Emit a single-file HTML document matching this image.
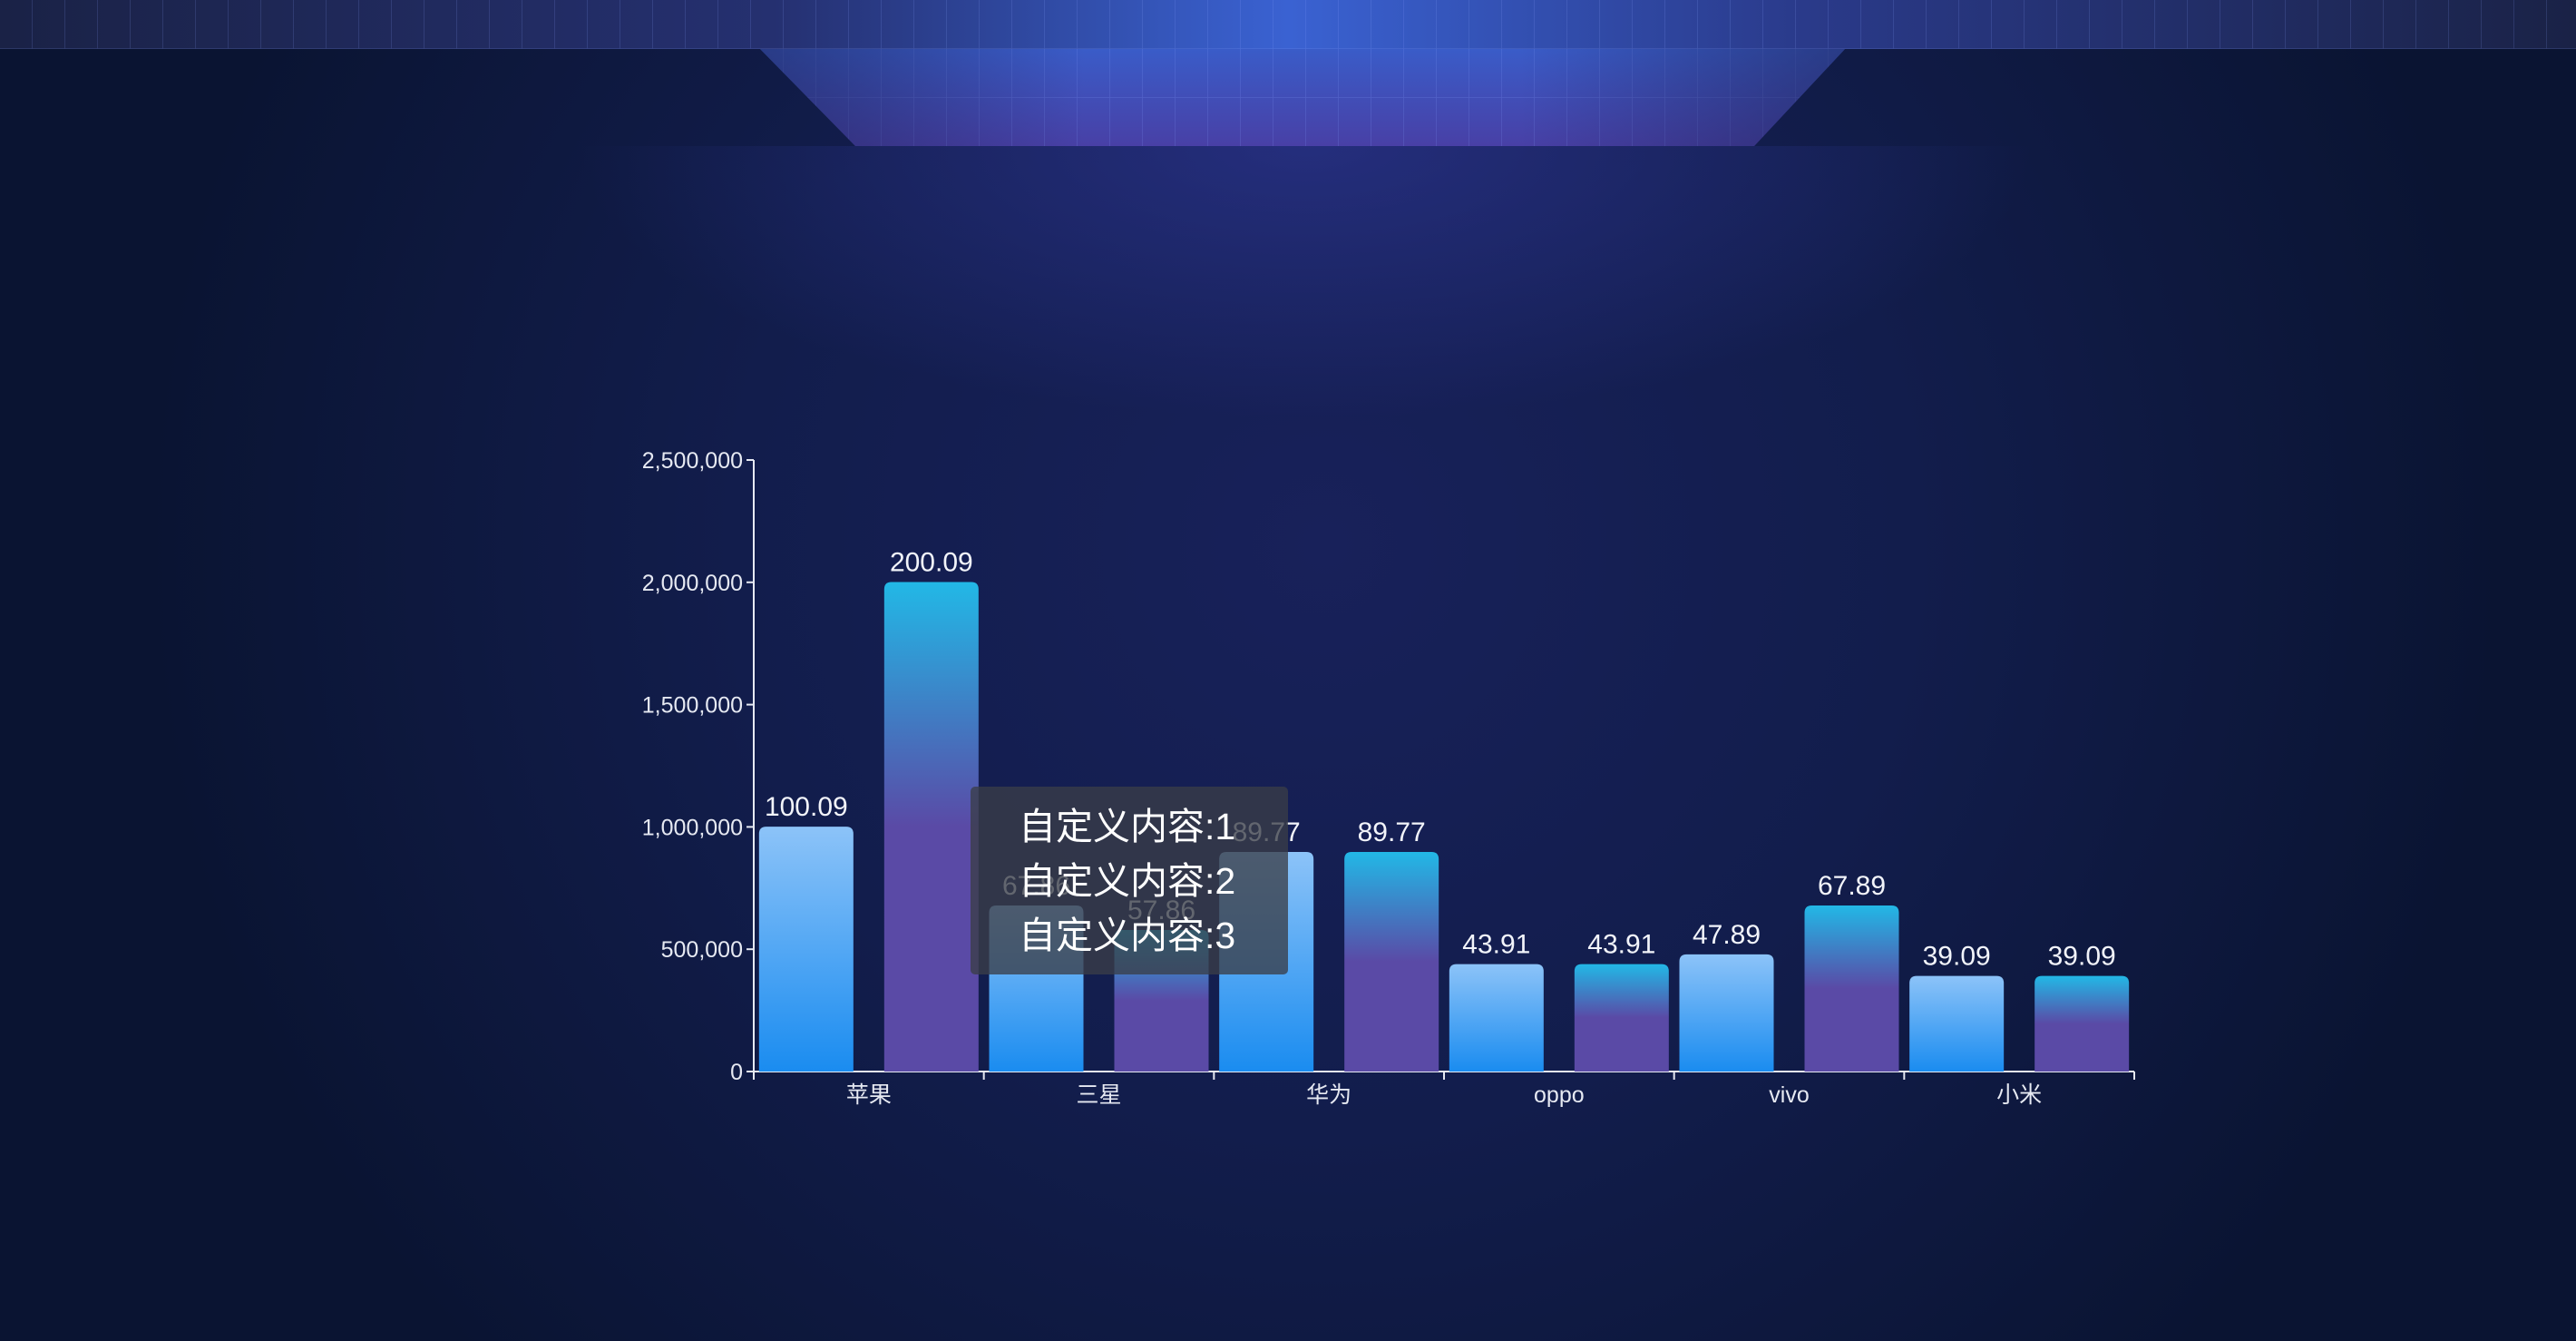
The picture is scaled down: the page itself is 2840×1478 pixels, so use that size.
<!DOCTYPE html>
<html><head><meta charset="utf-8">
<style>
html,body{margin:0;padding:0;width:2840px;height:1478px;overflow:hidden;background:#0c1633;}
svg{display:block}
</style></head>
<body>
<svg id="chart" width="2840" height="1478" viewBox="0 0 2840 1478" xmlns="http://www.w3.org/2000/svg" font-family="Liberation Sans, Noto Sans CJK SC, sans-serif">
<defs>
  <radialGradient id="bgGlow" cx="1460" cy="600" r="1300" gradientUnits="userSpaceOnUse">
    <stop offset="0" stop-color="#18215a"/>
    <stop offset="0.5" stop-color="#121d4c"/>
    <stop offset="1" stop-color="#0a1432"/>
  </radialGradient>
  <linearGradient id="topBand" x1="0" y1="0" x2="1" y2="0">
    <stop offset="0" stop-color="#1a2246"/>
    <stop offset="0.3" stop-color="#253070"/>
    <stop offset="0.5" stop-color="#3a62d2"/>
    <stop offset="0.7" stop-color="#2a3a8a"/>
    <stop offset="1" stop-color="#1a2246"/>
  </linearGradient>
  <linearGradient id="trap" x1="0" y1="0" x2="0" y2="1">
    <stop offset="0" stop-color="#3a5cc8"/>
    <stop offset="1" stop-color="#4840a6"/>
  </linearGradient>
  <linearGradient id="trapSide" x1="0" y1="0" x2="1" y2="0">
    <stop offset="0" stop-color="#1a2050" stop-opacity="0.55"/>
    <stop offset="0.3" stop-color="#1a2050" stop-opacity="0"/>
    <stop offset="0.7" stop-color="#1a2050" stop-opacity="0"/>
    <stop offset="1" stop-color="#1a2050" stop-opacity="0.55"/>
  </linearGradient>
  <radialGradient id="belowGlow" cx="1440" cy="161" r="1" gradientTransform="translate(1440 161) scale(800 300) translate(-1440 -161)" gradientUnits="userSpaceOnUse">
    <stop offset="0" stop-color="#2c3590" stop-opacity="0.7"/>
    <stop offset="1" stop-color="#2c3590" stop-opacity="0"/>
  </radialGradient>
  <pattern id="grid" width="36" height="54" patternUnits="userSpaceOnUse">
    <path d="M36 0V54M0 54H36" stroke="#8aa0ff" stroke-opacity="0.22" stroke-width="1.5" fill="none"/>
  </pattern>
  <linearGradient id="g1" x1="0" y1="0" x2="0" y2="1">
    <stop offset="0" stop-color="#8cc3f8"/>
    <stop offset="1" stop-color="#1a8cf0"/>
  </linearGradient>
  <linearGradient id="g2" x1="0" y1="0" x2="0" y2="1">
    <stop offset="0" stop-color="#22b8e6"/>
    <stop offset="0.5" stop-color="#5a4aa6"/>
    <stop offset="1" stop-color="#5a4aa6"/>
  </linearGradient>
</defs>
<rect width="2840" height="1478" fill="url(#bgGlow)"/>
<g>
  <rect x="0" y="0" width="2840" height="54" fill="url(#topBand)"/>
  <rect x="0" y="0" width="2840" height="54" fill="url(#grid)"/>
  <rect x="0" y="161" width="2840" height="320" fill="url(#belowGlow)"/>
  <polygon points="838,54 2034,54 1934,161 943,161" fill="url(#trap)"/>
  <polygon points="838,54 2034,54 1934,161 943,161" fill="url(#grid)"/>
  <polygon points="838,54 2034,54 1934,161 943,161" fill="url(#trapSide)"/>
</g>
<g id="axes"></g>
<g id="bars"></g>
<g>
  <rect x="1070" y="867" width="350" height="207" rx="5" fill="#3a3d48" fill-opacity="0.78"/>
  <text x="1123" y="925" font-size="41" fill="#ffffff">自定义内容:1</text>
  <text x="1123" y="985" font-size="41" fill="#ffffff">自定义内容:2</text>
  <text x="1123" y="1045" font-size="41" fill="#ffffff">自定义内容:3</text>
</g>
</svg>
<script>
const categories = ["苹果","三星","华为","oppo","vivo","小米"];
const series1 = [1000900, 678600, 897700, 439100, 478900, 390900];
const series2 = [2000900, 578600, 897700, 439100, 678900, 390900];
const yTicks = [0, 500000, 1000000, 1500000, 2000000, 2500000];
const yTickLabels = ["0","500,000","1,000,000","1,500,000","2,000,000","2,500,000"];

const NS = "http://www.w3.org/2000/svg";
const X0 = 831, X1 = 2353, Y0 = 1181, YTOP = 507, YMAX = 2500000;
const catW = (X1 - X0) / categories.length;
function yScale(v){ return Y0 - (v / YMAX) * (Y0 - YTOP); }
function xCat(i){ return X0 + catW * (i + 0.5); }
function mk(tag, attrs, parent){
  const e = document.createElementNS(NS, tag);
  for (const k in attrs) e.setAttribute(k, attrs[k]);
  parent.appendChild(e); return e;
}
const axes = document.getElementById("axes");
const bars = document.getElementById("bars");

const yLine = mk("line", {x1:X0, y1:YTOP, x2:X0, y2:Y0, stroke:"#e6e9f2", "stroke-width":2}, axes);


const xLine = mk("line", {x1:X0, y1:Y0, x2:X1, y2:Y0, stroke:"#e6e9f2", "stroke-width":2}, axes);



yTicks.forEach((t, i) => {
  const y = yScale(t);
  const tk = mk("line", {x1:X0-8, y1:y, x2:X0, y2:y, stroke:"#e6e9f2", "stroke-width":2}, axes);
  
  
  const tx = mk("text", {x:X0-12, y:y+9, "text-anchor":"end", "font-size":25, fill:"#e6e9f2"}, axes);
  tx.textContent = yTickLabels[i];
  
  
});
for (let i = 0; i <= categories.length; i++) {
  const x = X0 + catW * i;
  const tk = mk("line", {x1:x, y1:Y0, x2:x, y2:Y0+9, stroke:"#e6e9f2", "stroke-width":2}, axes);
  
  
}
categories.forEach((c, i) => {
  const tx = mk("text", {x:xCat(i), y:Y0+34, "text-anchor":"middle", "font-size":25, fill:"#e6e9f2"}, axes);
  tx.textContent = c;
  
  
});

const BW = 104, OFF = 69;
function drawBar(v, i, off, fill){
  const cx = xCat(i) + off, y = yScale(v);
  const r = mk("path", {d:`M${cx-BW/2} ${Y0} V${y+8} Q${cx-BW/2} ${y} ${cx-BW/2+8} ${y} H${cx+BW/2-8} Q${cx+BW/2} ${y} ${cx+BW/2} ${y+8} V${Y0} Z`, fill:fill}, bars);
  
  
  const t = mk("text", {x:cx, y:y-12, "text-anchor":"middle", "font-size":30, fill:"#f2f4fa"}, bars);
  t.textContent = (v / 10000).toFixed(2);
  
  
}
series1.forEach((v, i) => drawBar(v, i, -OFF, "url(#g1)"));
series2.forEach((v, i) => drawBar(v, i, OFF, "url(#g2)"));
</script>
</body></html>
